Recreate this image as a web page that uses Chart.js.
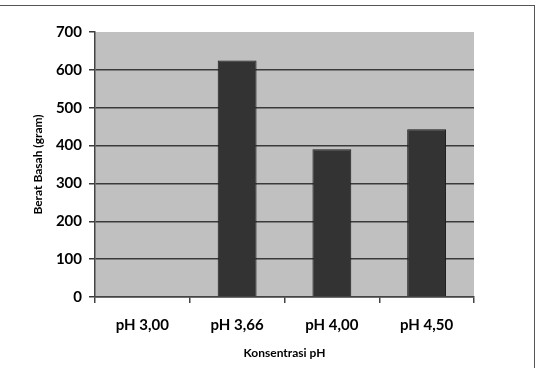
<!DOCTYPE html>
<html>
<head>
<meta charset="utf-8">
<script src="https://cdn.jsdelivr.net/npm/chart.js@4"></script>
<style>
  body { margin: 0; background: #fff; }
  #wrap { position: relative; width: 537px; height: 368px; overflow: hidden; }
  #frame {
    position: absolute; left: -4px; top: 5px; width: 539px; height: 400px;
    border-top: 1px solid #555; border-right: 1px solid #555;
    box-sizing: border-box; pointer-events: none;
  }
</style>
</head>
<body>
<div id="wrap">
  <canvas id="myChart" width="537" height="368"></canvas>
  <div id="frame"></div>
</div>
<script>
const categories = ["pH 3,00", "pH 3,66", "pH 4,00", "pH 4,50"];
const beratBasah = [0, 625, 390, 443];
const yTicks = [0, 100, 200, 300, 400, 500, 600, 700];

const fontFamily = "Lato, 'Open Sans', sans-serif";

// grey plot background like the old Excel chart
const plotBg = {
    id: "plotBg",
    beforeDraw(chart) {
        const a = chart.chartArea;
        const ctx = chart.ctx;
        ctx.save();
        ctx.fillStyle = "#c0c0c0";
        ctx.fillRect(a.left, a.top, a.right - a.left, a.bottom - a.top);
        ctx.restore();
    }
};

const ctx = document.getElementById("myChart").getContext("2d");
const chart = new Chart(ctx, {
    type: "bar",
    data: {
        labels: categories,
        datasets: [{
            label: "Berat Basah",
            data: beratBasah,
            backgroundColor: "#333333",
            borderColor: "#1a1a1a",
            borderWidth: 1,
            barPercentage: 0.41,
            categoryPercentage: 1
        }]
    },
    options: {
        responsive: false,
        animation: false,
        layout: { padding: { left: 0, top: 32, right: 63, bottom: 0 } },
        plugins: {
            legend: { display: false },
            tooltip: { enabled: false }
        },
        scales: {
            y: {
                min: 0,
                max: 700,
                afterBuildTicks: function (scale) {
                    scale.ticks = yTicks.map(v => ({ value: v }));
                },
                afterFit: function (scale) { scale.width = 95; },
                grid: {
                    color: c => (c.tick && c.tick.value === 700) ? "rgba(0,0,0,0)" : "#3a3a3a",
                    lineWidth: 1.5,
                    tickLength: 6,
                    tickColor: "#3a3a3a",
                    drawTicks: true
                },
                border: { color: "#444", width: 1.5 },
                ticks: {
                    padding: 7,
                    color: "#000",
                    font: { family: fontFamily, size: 15, weight: "bold" }
                },
                title: {
                    display: true,
                    text: "Berat Basah (gram)",
                    color: "#000",
                    padding: { top: 31, bottom: 31 },
                    font: { family: fontFamily, size: 12, weight: "bold" }
                }
            },
            x: {
                afterFit: function (scale) { scale.height = 71; },
                grid: {
                    display: true,
                    drawOnChartArea: false,
                    offset: true,
                    tickLength: 6,
                    tickColor: "#444",
                    lineWidth: 1.5
                },
                border: { color: "#444", width: 1.5 },
                ticks: {
                    padding: 13,
                    color: "#000",
                    font: { family: fontFamily, size: 15, weight: "bold" }
                },
                title: {
                    display: true,
                    text: "Konsentrasi pH",
                    color: "#000",
                    padding: { top: 8, bottom: 8 },
                    font: { family: fontFamily, size: 12, weight: "bold" }
                }
            }
        }
    },
    plugins: [plotBg]
});
</script>
</body>
</html>
